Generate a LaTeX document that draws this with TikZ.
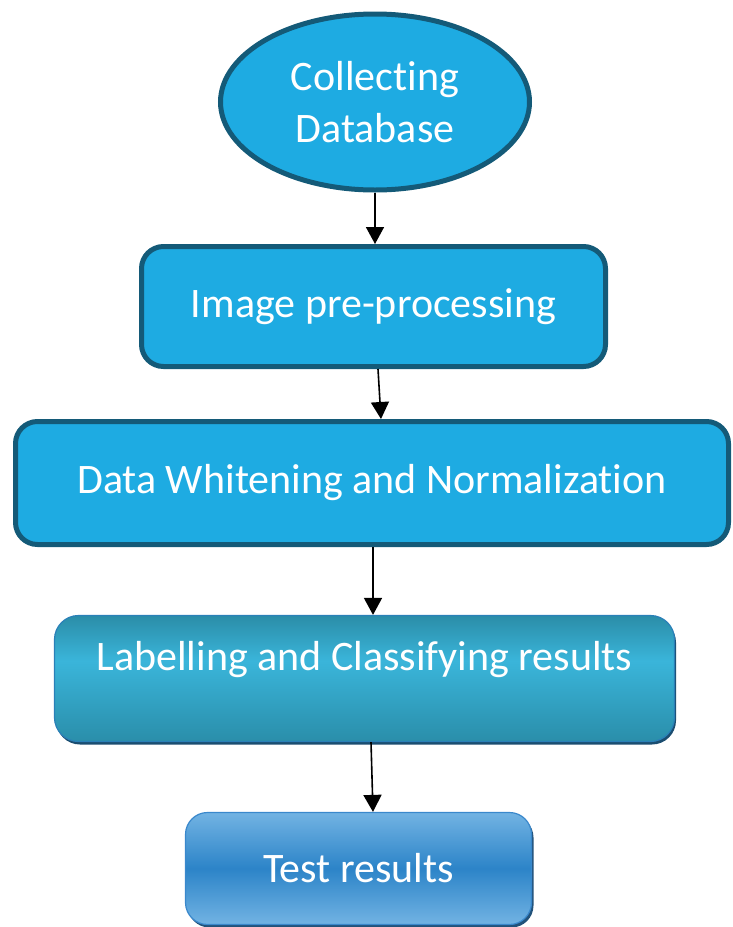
\documentclass[tikz,border=0pt]{standalone}
\usepackage{fontspec}
\setmainfont{Carlito}[Ligatures={NoCommon,NoContextual}]
\usetikzlibrary{shapes.geometric,arrows.meta,shadows}

\definecolor{skyfill}{HTML}{1EABE2}
\definecolor{darkedge}{HTML}{145A78}
\definecolor{tealtop}{HTML}{2B8DA8}
\definecolor{tealmid}{HTML}{3AB5DA}
\definecolor{tealbot}{HTML}{2A8EAA}
\definecolor{tealedge}{HTML}{2A80B8}
\definecolor{tealshadow}{HTML}{1B4D70}
\definecolor{bluelight}{HTML}{72B3E3}
\definecolor{bluemid}{HTML}{2C84C8}
\definecolor{blueedge}{HTML}{3A88CC}
\definecolor{blueshadow}{HTML}{22527A}

% teal shading whose lightest band sits a little above the middle
\pgfdeclareverticalshading{tealband}{100bp}{%
  color(0bp)=(tealbot); color(25bp)=(tealbot); color(57bp)=(tealmid);
  color(75bp)=(tealtop); color(100bp)=(tealtop)}

\tikzset{
  txt/.style={text=white, font=\fontsize{42}{52}\selectfont, align=center},
  flatbox/.style={draw=darkedge, line width=5pt, fill=skyfill, rounded corners=22pt,
    inner sep=0pt},
  startnode/.style={ellipse, draw=darkedge, line width=5pt, fill=skyfill, inner sep=0pt,
    minimum width=309pt, minimum height=176pt},
  tealbox/.style={draw=tealedge, line width=1.2pt, shading=tealband, rounded corners=24pt,
    inner sep=0pt,
    general shadow={fill=tealshadow, shadow xshift=1.5pt, shadow yshift=-3pt}},
  bluebox/.style={draw=blueedge, line width=1.2pt, rounded corners=22pt, inner sep=0pt,
    top color=bluelight, bottom color=bluelight, middle color=bluemid,
    general shadow={fill=blueshadow, shadow xshift=2pt, shadow yshift=-3pt}},
  arr/.style={line width=1.6pt, -{Triangle[width=18pt,length=17pt]}}
}

\begin{document}
\begin{tikzpicture}[x=1pt, y=-1pt]
  \useasboundingbox (0,0) rectangle (732,927);

  \node[startnode, txt] (collect) at (375,102) {Collecting\\Database};

  \node[flatbox, txt, minimum width=464pt, minimum height=120pt] (prep)
    at (373.5,306.5) {Image pre-processing};

  \node[flatbox, txt, minimum width=713pt, minimum height=123pt] (whiten)
    at (372,483) {Data Whitening and Normalization};

  \node[tealbox, minimum width=620pt, minimum height=126pt] (label) at (364.5,678.5) {};
  \node[txt] (labeltext) at ([yshift=19pt]label.center) {Labelling and Classifying results};

  \node[bluebox, txt, minimum width=346pt, minimum height=112pt] (test)
    at (358.5,868.5) {Test results};

  % flow between the steps
  \draw[arr] (collect.south) -- (collect.south |- prep.north);
  \draw[arr] ([xshift=4.5pt]prep.south) -- ([xshift=9pt]whiten.north);
  \draw[arr] ([xshift=1pt]whiten.south) -- ([xshift=8.5pt]label.north);
  \draw[arr] ([xshift=6.5pt]label.south) -- ([xshift=14.5pt]test.north);
\end{tikzpicture}
\end{document}
